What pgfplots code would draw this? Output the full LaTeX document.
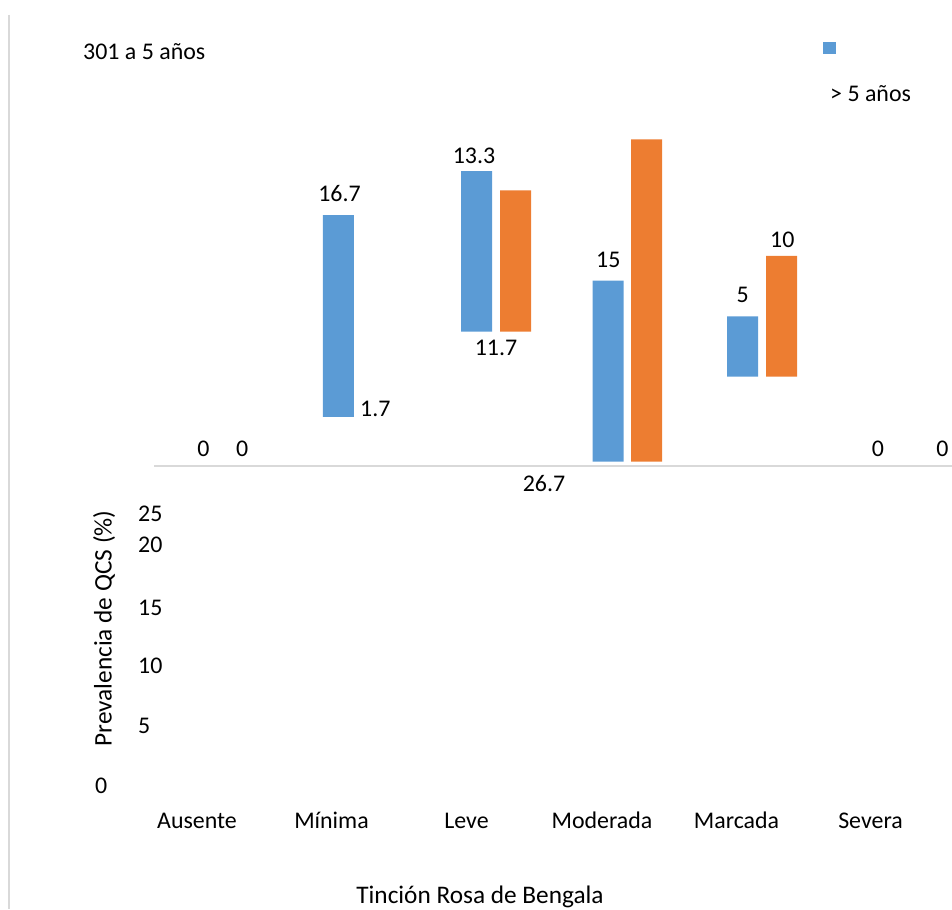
\documentclass[border=0pt]{standalone}
\usepackage{fontspec}
\setmainfont{Carlito}
\usepackage{pgfplots}
\pgfplotsset{compat=1.18}
\definecolor{cblue}{HTML}{5B9BD5}
\definecolor{corange}{HTML}{ED7D31}
\definecolor{cgrid}{HTML}{D9D9D9}
\begin{document}
\begin{tikzpicture}[font=\fontsize{23.9}{28}\selectfont]
\pgfplotsset{
  base/.style={scale only axis, width=952pt, height=909pt,
    xmin=0, xmax=952, ymin=-36.70, ymax=38.61,
    axis lines=none, ticks=none, ybar stacked, bar width=31pt, clip=false}
}
% blue series: invisible offset + value
\begin{axis}[base, name=ax]
\addplot[draw=none, fill=none] coordinates {(338.3,4.08) (476.5,11.13) (608,0.36) (742.5,7.40)};
\addplot[fill=cblue, draw=none] coordinates {(338.3,16.7) (476.5,13.3) (608,15) (742.5,5)};
\end{axis}
% orange series: invisible offset + value
\begin{axis}[base]
\addplot[draw=none, fill=none] coordinates {(515.5,11.13) (646.5,0.36) (781.5,7.40)};
\addplot[fill=corange, draw=none] coordinates {(515.5,11.7) (646.5,26.7) (781.5,10)};
\end{axis}
\begin{scope}[shift={(ax.north west)}, x=1pt, y=-1pt]
\draw[cgrid, line width=2pt] (9,15) -- (9,909);
\draw[cgrid, line width=1.6pt] (154,466) -- (952,466);
\node[anchor=base west, inner sep=0pt] at (83,60) {301 a 5 años};
\fill[cblue] (822.5,42.5) rectangle (835.5,54.5);
\node[anchor=base west, inner sep=0pt] at (830,101.7) {> 5 años};
\begin{scope}[every node/.style={anchor=base, inner sep=0pt}]
\node at (339.5,201.7) {16.7};
\node[anchor=base west] at (360,416.7) {1.7};
\node at (474,164) {13.3};
\node at (496,356) {11.7};
\node at (608.3,267.7) {15};
\node at (742.7,303) {5};
\node at (782.3,247.7) {10};
\node at (203.5,456.7) {0};
\node at (242.3,456.7) {0};
\node at (877.8,456.7) {0};
\node at (942.3,456.7) {0};
\node at (544,492) {26.7};
\node[anchor=base west] at (138,522) {25};
\node[anchor=base west] at (138,553) {20};
\node[anchor=base west] at (138,615) {15};
\node[anchor=base west] at (138,673) {10};
\node[anchor=base west] at (138,733) {5};
\node[anchor=base west] at (95,793) {0};
\node[rotate=90, font=\fontsize{25.3}{30}\selectfont] at (111.5,628.5) {Prevalencia de QCS (\%)};
\node at (197,828) {Ausente};
\node at (331.5,828) {Mínima};
\node at (466.5,828) {Leve};
\node at (602,828) {Moderada};
\node at (736.5,828) {Marcada};
\node at (870.5,828) {Severa};
\node[font=\fontsize{25.3}{30}\selectfont] at (480,903) {Tinción Rosa de Bengala};
\end{scope}
\end{scope}
\pgfresetboundingbox
\path (ax.south west) rectangle (ax.north east);
\end{tikzpicture}
\end{document}
